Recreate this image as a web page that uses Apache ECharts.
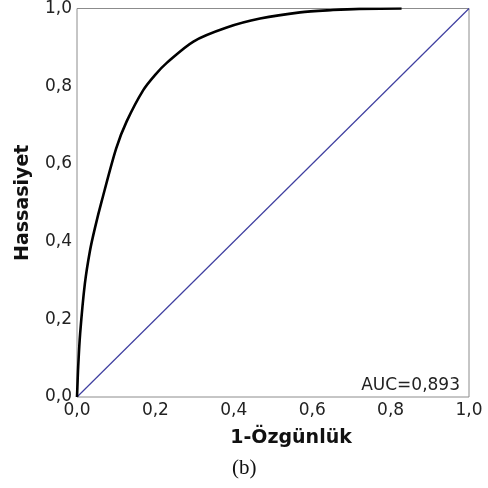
<!DOCTYPE html>
<html lang="tr">
<head>
<meta charset="UTF-8">
<title>ROC</title>
<style>
    *{ margin: 0; padding: 0; }
    body{ background: #fff; }
    #chart{ width: 488px; height: 488px; }
</style>
</head>
<body>
<div id="chart"></div>
<script src="https://cdn.jsdelivr.net/npm/echarts@6/dist/echarts.min.js"></script>
<script>
// ROC egrisi (okunan degerler)
var rocX = [0, 0.001, 0.003, 0.008, 0.02, 0.033, 0.046, 0.063, 0.1, 0.127, 0.169, 0.2, 0.229, 0.297, 0.382, 0.467, 0.569, 0.653, 0.72, 0.828]
var rocY = [0, 0.026, 0.077, 0.163, 0.291, 0.376, 0.436, 0.504, 0.64, 0.71, 0.79, 0.83, 0.86, 0.915, 0.951, 0.974, 0.99, 0.996, 0.999, 1.0]
// referans cizgisi
var refX = [0, 1]
var refY = [0, 1]
var aucText = 'AUC=0,893'

var sans = 'DejaVu Sans'
var chart = echarts.init(document.getElementById('chart'))

function fmt(v) {
    return v.toFixed(1).replace('.', ',')
}

var option = {
    animation: false,
    grid: {
        left: 77, right: 19, top: 6, bottom: 91,
        show: true,
        borderColor: '#8c8c8c',
        borderWidth: 1
    },
    xAxis: {
        type: 'value', min: 0, max: 1, interval: 0.2,
        axisLine: { show: false },
        axisTick: { show: false },
        splitLine: { show: false },
        axisLabel: { formatter: fmt, fontFamily: sans, fontSize: 17, color: '#222', margin: 5 },
        name: '1-Özgünlük',
        nameLocation: 'middle',
        nameGap: 32,
        nameTextStyle: { fontFamily: sans, fontWeight: 'bold', fontSize: 19, color: '#111', padding: [0, 0, 0, 36] }
    },
    yAxis: {
        type: 'value', min: 0, max: 1, interval: 0.2,
        axisLine: { show: false },
        axisTick: { show: false },
        splitLine: { show: false },
        axisLabel: { formatter: fmt, fontFamily: sans, fontSize: 17, color: '#222', margin: 5 },
        name: 'Hassasiyet',
        nameLocation: 'middle',
        nameGap: 44,
        nameTextStyle: { fontFamily: sans, fontWeight: 'bold', fontSize: 19, color: '#111' }
    },
    graphic: [
        {
            type: 'text', right: 28, top: 377,
            style: { text: aucText, fontFamily: sans, fontSize: 17, fill: '#222' }
        },
        {
            type: 'text', left: 232, top: 458,
            style: { text: '(b)', fontFamily: 'Liberation Serif', fontSize: 21, fill: '#111' }
        }
    ],
    series: [
        {
            type: 'line',
            data: refX.map(function (x, i) { return [x, refY[i]] }),
            showSymbol: false,
            lineStyle: { color: '#3f3fa0', width: 1.2 }
        },
        {
            type: 'line',
            smooth: 0.3,
            data: rocX.map(function (x, i) { return [x, rocY[i]] }),
            showSymbol: false,
            lineStyle: { color: '#000', width: 2.6 }
        }
    ]
}
chart.setOption(option)
</script>
</body>
</html>
